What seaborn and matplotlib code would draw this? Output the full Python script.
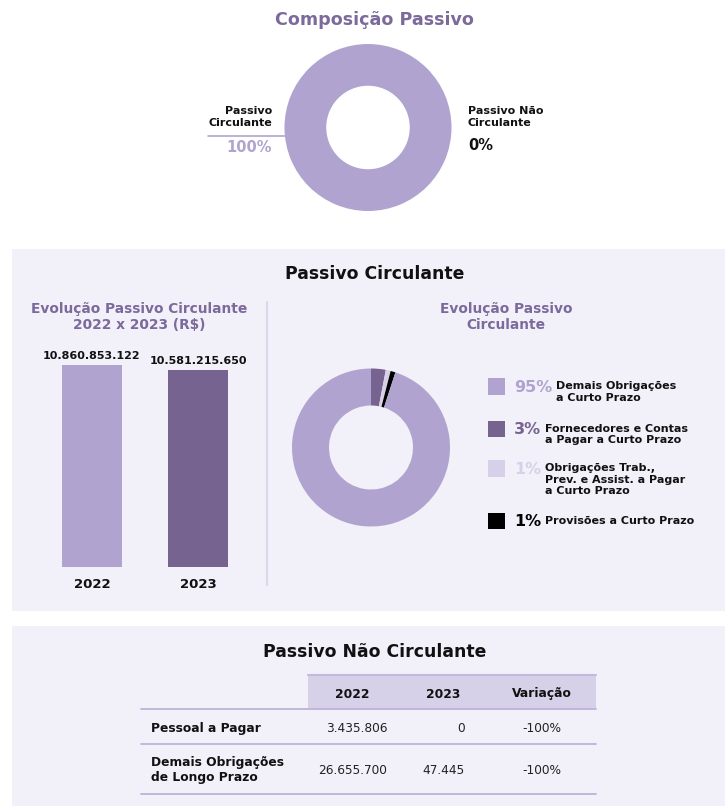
import matplotlib
matplotlib.use("Agg")
import matplotlib.pyplot as plt
from matplotlib.patches import Rectangle
import seaborn as sns

# ---- data ----
composicao_labels = ["Passivo\nCirculante", "Passivo Não\nCirculante"]
composicao_pct = [100, 0]

bar_years = ["2022", "2023"]
bar_values = [10860853122, 10581215650]

pc_labels = [
    "Demais Obrigações\na Curto Prazo",
    "Fornecedores e Contas\na Pagar a Curto Prazo",
    "Obrigações Trab.,\nPrev. e Assist. a Pagar\na Curto Prazo",
    "Provisões a Curto Prazo",
]
pc_pct = [95, 3, 1, 1]

pnc_items = ["Pessoal a Pagar", "Demais Obrigações\nde Longo Prazo"]
pnc_2022 = [3435806, 26655700]
pnc_2023 = [0, 47445]
pnc_header = ["2022", "2023", "Variação"]

# ---- style ----
sns.set_theme(style="white")
plt.rcParams["font.family"] = ["DejaVu Sans"]

W, H = 725, 806
PANEL = "#f2f0f9"
PURPLE_TXT = "#7b6a9b"
LIGHT = "#b0a3cf"
DARK = "#76638f"
PALE = "#d6d1e8"
BLACK = "#000000"
pc_colors = [LIGHT, DARK, PALE, BLACK]

fig = plt.figure(figsize=(W / 100, H / 100), dpi=100)
fig.patch.set_facecolor("white")

ov = fig.add_axes([0, 0, 1, 1])
ov.set_xlim(0, W)
ov.set_ylim(H, 0)
ov.axis("off")


def px_axes(x0, y0, x1, y1):
    ax = fig.add_axes([x0 / W, 1 - y1 / H, (x1 - x0) / W, (y1 - y0) / H])
    ax.patch.set_alpha(0)
    return ax


def fmt_br(v):
    return f"{v:,}".replace(",", ".")


# panels
ov.add_patch(Rectangle((12, 249), W - 12, 362, color=PANEL, lw=0))
ov.add_patch(Rectangle((12, 626), W - 12, H - 626, color=PANEL, lw=0))

# ---- Composição Passivo donut ----
ov.text(374, 20, "Composição Passivo", ha="center", va="center",
        fontsize=12.6, fontweight="bold", color=PURPLE_TXT)
cx, cy, R = 368, 127.5, 83.5
ax1 = px_axes(cx - R, cy - R, cx + R, cy + R)
ax1.pie(composicao_pct, colors=[LIGHT, PALE], startangle=90, counterclock=False,
        radius=1, wedgeprops=dict(width=0.5, linewidth=0))
ax1.set_xlim(-1, 1)
ax1.set_ylim(-1, 1)

ov.plot([208, cx - R + 1], [136, 136], color=LIGHT, lw=1.2)
ov.text(272, 117, composicao_labels[0], ha="right", va="center", fontsize=8,
        fontweight="bold", color="#111111", linespacing=1.25)
ov.text(272, 147, f"{composicao_pct[0]}%", ha="right", va="center", fontsize=10.5,
        fontweight="bold", color=LIGHT)
ov.text(468, 117, composicao_labels[1], ha="left", va="center", fontsize=8,
        fontweight="bold", color="#111111", linespacing=1.25)
ov.text(468, 145, f"{composicao_pct[1]}%", ha="left", va="center", fontsize=10.5,
        fontweight="bold", color="#111111")

# ---- Passivo Circulante panel ----
ov.text(375, 274, "Passivo Circulante", ha="center", va="center",
        fontsize=12.4, fontweight="bold", color="#111111")
ov.text(139, 317, "Evolução Passivo Circulante\n2022 x 2023 (R$)", ha="center",
        va="center", fontsize=9.9, fontweight="bold", color=PURPLE_TXT, linespacing=1.1)
ov.text(506, 317, "Evolução Passivo\nCirculante", ha="center", va="center",
        fontsize=9.9, fontweight="bold", color=PURPLE_TXT, linespacing=1.1)
ov.plot([267, 267], [302, 585], color="#dcd7ea", lw=1.5)

# bars
ymax = max(bar_values) * 1.2
base = 566.7
bar_h = (base - 365) * 1.2
ax2 = px_axes(39, base - bar_h, 251, base)
sns.barplot(x=bar_years, y=bar_values, hue=bar_years, palette=[LIGHT, DARK],
            width=0.575, legend=False, ax=ax2, saturation=1, linewidth=0)
ax2.set_ylim(0, ymax)
ax2.set_xlim(-0.5, 1.5)
for s in ax2.spines.values():
    s.set_visible(False)
ax2.set_yticks([])
ax2.tick_params(axis="x", length=0, pad=8)
for lab in ax2.get_xticklabels():
    lab.set_fontweight("bold")
    lab.set_fontsize(9.5)
    lab.set_color("#111111")
for i, v in enumerate(bar_values):
    ax2.annotate(fmt_br(v), xy=(i, v), xytext=(0, 3), textcoords="offset points",
                 ha="center", va="bottom", fontsize=8, fontweight="bold", color="#111111")

# donut of current liabilities: clockwise from top, the big slice last
order = [1, 2, 3, 0]
dcx, dcy, dR = 371, 447.5, 79
ax3 = px_axes(dcx - dR, dcy - dR, dcx + dR, dcy + dR)
ax3.pie([pc_pct[i] for i in order], colors=[pc_colors[i] for i in order],
        startangle=90, counterclock=False, radius=1,
        wedgeprops=dict(width=37 / 79, linewidth=0))
ax3.set_xlim(-1, 1)
ax3.set_ylim(-1, 1)

# legend
row_y = [386.5, 429, 468.5, 521]
pct_colors = [LIGHT, DARK, PALE, BLACK]
for yc, lab, pct, col, tcol in zip(row_y, pc_labels, pc_pct, pc_colors, pct_colors):
    ov.add_patch(Rectangle((488.3, yc - 8.4), 16.8, 16.8, color=col, lw=0))
    t = ov.text(514, yc + 1, f"{pct}%", ha="left", va="center", fontsize=11.5,
                fontweight="bold", color=tcol)
    ov.annotate(lab, xy=(1, 0.92), xycoords=t, xytext=(3, 0), textcoords="offset points",
                ha="left", va="top", fontsize=8, fontweight="bold", color="#111111",
                linespacing=1.2)

# ---- Passivo Não Circulante table ----
ov.text(375, 652, "Passivo Não Circulante", ha="center", va="center",
        fontsize=12.4, fontweight="bold", color="#111111")
ov.add_patch(Rectangle((308, 674), 288, 35, color=PALE, lw=0))
ov.plot([308, 596], [674.5, 674.5], color="#c3b9dd", lw=1.5)
line_col = "#bdb2d9"
for yl in [709, 743.5, 793.5]:
    ov.plot([141, 596], [yl, yl], color=line_col, lw=1.3)

col_x = [352.7, 443, 542.3]
for x, h in zip(col_x, pnc_header):
    ov.text(x, 694, h, ha="center", va="center", fontsize=8.8,
            fontweight="bold", color="#111111")

row_cy = [728.5, 770]
for yc, item, v22, v23 in zip(row_cy, pnc_items, pnc_2022, pnc_2023):
    var = (v23 - v22) / v22 * 100
    ov.text(151.5, yc, item, ha="left", va="center", fontsize=8.8,
            fontweight="bold", color="#111111", linespacing=1.2)
    ov.text(387.5, yc, fmt_br(v22), ha="right", va="center", fontsize=8.7, color="#222222")
    ov.text(465, yc, fmt_br(v23), ha="right", va="center", fontsize=8.7, color="#222222")
    ov.text(542.3, yc, f"{var:.0f}%", ha="center", va="center", fontsize=8.7, color="#222222")

fig.savefig("out.png", dpi=100, facecolor="white")
